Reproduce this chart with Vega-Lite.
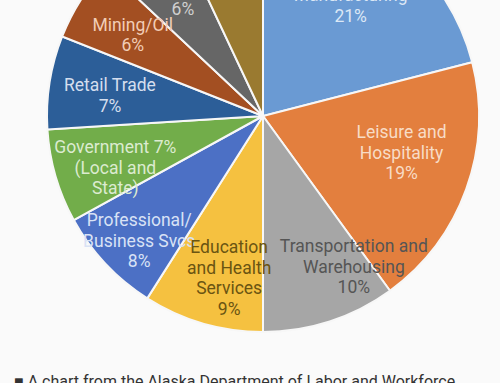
{
  "$schema": "https://vega.github.io/schema/vega-lite/v6.json",
  "autosize": "none",
  "width": 474,
  "height": 232,
  "padding": {"left": 26, "top": 0, "right": 0, "bottom": 151},
  "background": "#fafafa",
  "view": {"stroke": null},
  "title": {
    "text": "■ A chart from the Alaska Department of Labor and Workforce",
    "orient": "bottom",
    "anchor": "start",
    "frame": "group",
    "offset": 38,
    "dx": -12,
    "font": "Roboto",
    "fontSize": 16,
    "fontWeight": "normal",
    "color": "#333333"
  },
  "data": {
    "values": [
      {"idx": 1, "cat": "Manufacturing", "value": 21, "label": "Manufacturing\n21%"},
      {"idx": 2, "cat": "Leisure and Hospitality", "value": 19, "label": "Leisure and\nHospitality\n19%"},
      {"idx": 3, "cat": "Transportation and Warehousing", "value": 10, "label": "Transportation and\nWarehousing\n10%"},
      {"idx": 4, "cat": "Education and Health Services", "value": 9, "label": "Education\nand Health\nServices\n9%"},
      {"idx": 5, "cat": "Professional/Business Svcs", "value": 8, "label": "Professional/\nBusiness Svcs\n8%"},
      {"idx": 6, "cat": "Government (Local and State)", "value": 7, "label": "Government 7%\n(Local and\nState)"},
      {"idx": 7, "cat": "Retail Trade", "value": 7, "label": "Retail Trade\n7%"},
      {"idx": 8, "cat": "Mining/Oil", "value": 6, "label": "Mining/Oil\n6%"},
      {"idx": 9, "cat": "Construction", "value": 6, "label": "Construction\n6%"},
      {"idx": 10, "cat": "Other", "value": 7, "label": "Other\n7%"}
    ]
  },
  "resolve": {"scale": {"color": "independent"}},
  "layer": [
    {
      "mark": {"type": "arc", "outerRadius": 216, "stroke": "#f7f7f7", "strokeWidth": 2},
      "encoding": {
        "theta": {"field": "value", "type": "quantitative", "stack": true},
        "order": {"field": "idx", "type": "quantitative"},
        "color": {
          "field": "cat", "type": "nominal", "legend": null,
          "scale": {
            "domain": ["Manufacturing", "Leisure and Hospitality", "Transportation and Warehousing", "Education and Health Services", "Professional/Business Svcs", "Government (Local and State)", "Retail Trade", "Mining/Oil", "Construction", "Other"],
            "range": ["#6a9ad3", "#e37f3e", "#a6a6a6", "#f5c140", "#4c70c5", "#72ad4a", "#2c5e98", "#a34f22", "#666666", "#9a7a30"]
          }
        }
      }
    },
    {
      "layer": [
        {
          "mark": {"type": "text", "radius": 143, "dy": -7, "font": "Roboto", "fontSize": 17.5, "lineHeight": 20.5, "lineBreak": "\n", "align": "center", "baseline": "middle"},
          "encoding": {
            "text": {"condition": {"test": "datum.cat == 'Manufacturing'", "field": "label"}, "value": ""}
          }
        },
        {
          "mark": {"type": "text", "radius": 143, "dx": 4, "dy": -11, "font": "Roboto", "fontSize": 17.5, "lineHeight": 20.5, "lineBreak": "\n", "align": "center", "baseline": "middle"},
          "encoding": {
            "text": {"condition": {"test": "datum.cat == 'Construction'", "field": "label"}, "value": ""}
          }
        },
        {
          "mark": {"type": "text", "radius": 143, "dx": 4, "dy": -31, "font": "Roboto", "fontSize": 17.5, "lineHeight": 20.5, "lineBreak": "\n", "align": "center", "baseline": "middle"},
          "encoding": {
            "text": {"condition": {"test": "datum.cat == 'Leisure and Hospitality'", "field": "label"}, "value": ""}
          }
        },
        {
          "mark": {"type": "text", "radius": 159, "dx": 4, "dy": -5, "font": "Roboto", "fontSize": 17.5, "lineHeight": 20.5, "lineBreak": "\n", "align": "center", "baseline": "middle"},
          "encoding": {
            "text": {"condition": {"test": "indexof(['Retail Trade','Mining/Oil'], datum.cat) >= 0", "field": "label"}, "value": ""}
          }
        },
        {
          "mark": {"type": "text", "radius": 159, "dx": 5, "dy": -12, "font": "Roboto", "fontSize": 17.5, "lineHeight": 20.5, "lineBreak": "\n", "align": "center", "baseline": "middle"},
          "encoding": {
            "text": {"condition": {"test": "datum.cat == 'Government (Local and State)'", "field": "label"}, "value": ""}
          }
        },
        {
          "mark": {"type": "text", "radius": 174, "dx": 3, "dy": -14, "font": "Roboto", "fontSize": 17.5, "lineHeight": 20.5, "lineBreak": "\n", "align": "center", "baseline": "middle"},
          "encoding": {
            "text": {"condition": {"test": "datum.cat == 'Professional/Business Svcs'", "field": "label"}, "value": ""}
          }
        },
        {
          "mark": {"type": "text", "radius": 171, "dx": 38, "dy": -31.5, "font": "Roboto", "fontSize": 17.5, "lineHeight": 20.5, "lineBreak": "\n", "align": "center", "baseline": "middle"},
          "encoding": {
            "text": {"condition": {"test": "datum.cat == 'Transportation and Warehousing'", "field": "label"}, "value": ""}
          }
        },
        {
          "mark": {"type": "text", "radius": 168, "dx": 13, "dy": -29, "font": "Roboto", "fontSize": 17.5, "lineHeight": 20.5, "lineBreak": "\n", "align": "center", "baseline": "middle"},
          "encoding": {
            "text": {"condition": {"test": "datum.cat == 'Education and Health Services'", "field": "label"}, "value": ""}
          }
        }
      ],
      "encoding": {
        "theta": {"field": "value", "type": "quantitative", "stack": true},
        "order": {"field": "idx", "type": "quantitative"},
        "color": {
          "field": "cat", "type": "nominal", "legend": null,
          "scale": {
            "domain": ["Manufacturing", "Leisure and Hospitality", "Transportation and Warehousing", "Education and Health Services", "Professional/Business Svcs", "Government (Local and State)", "Retail Trade", "Mining/Oil", "Construction", "Other"],
            "range": ["#dce8f6", "#f8dcc6", "#555555", "#6a5412", "#d9e2f5", "#dcebd0", "#d5deee", "#f2cdb6", "#d0d0d0", "#e0d4b0"]
          }
        }
      }
    }
  ]
}
